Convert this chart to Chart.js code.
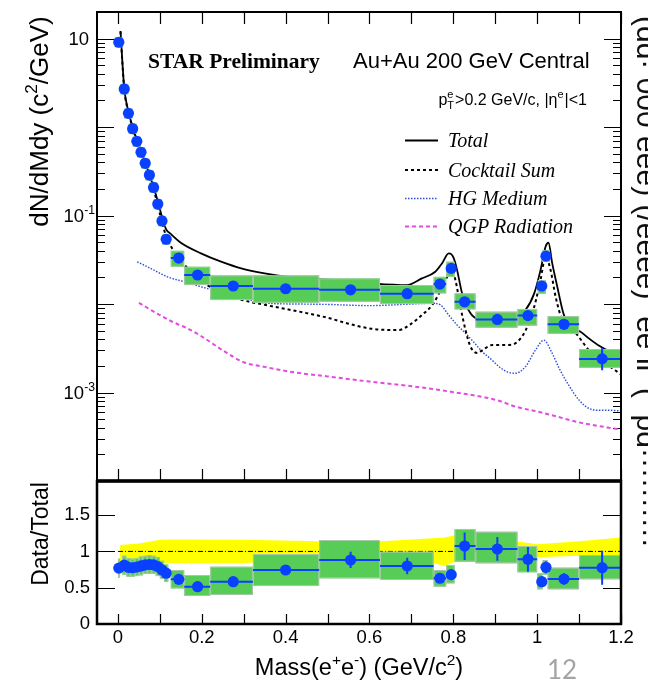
<!DOCTYPE html>
<html><head><meta charset="utf-8">
<script src="https://cdn.jsdelivr.net/npm/chart.js@4.4.1/dist/chart.umd.min.js"></script>
<style>
html,body{margin:0;padding:0;background:#fff;overflow:hidden}
#wrap{position:relative;width:648px;height:680px}
canvas{position:absolute;left:0;top:0}
</style></head>
<body><div id="wrap"><canvas id="topc" width="648" height="680"></canvas><canvas id="botc" width="648" height="680"></canvas></div>
<script>
// ---------------- data ----------------
const massX = [0.002,0.015,0.025,0.035,0.045,0.055,0.065,0.075,0.085,0.095,0.105,0.115,
  0.145,0.19,0.275,0.40,0.555,0.69,0.768,0.795,0.827,0.905,0.978,1.011,1.021,1.064,1.155];
const yieldVals = [9.1,2.7,1.43,0.96,0.69,0.52,0.39,0.287,0.208,0.135,0.087,0.054,
  0.0331,0.0213,0.0160,0.0149,0.0145,0.0131,0.0168,0.0253,0.0106,0.0067,0.0074,0.0160,0.0348,0.0059,0.0024];
const binLo = [0.0,0.01,0.02,0.03,0.04,0.05,0.06,0.07,0.08,0.09,0.10,0.11,
  0.126,0.158,0.22,0.322,0.48,0.625,0.753,0.783,0.803,0.853,0.953,1.0,1.013,1.025,1.1];
const binHi = [0.005,0.02,0.03,0.04,0.05,0.06,0.07,0.08,0.09,0.10,0.11,0.12,
  0.158,0.22,0.322,0.48,0.625,0.753,0.783,0.803,0.853,0.953,1.0,1.013,1.025,1.1,1.2];
const sysLo = [8.0,2.35,1.25,0.84,0.60,0.455,0.34,0.25,0.182,0.118,0.076,0.047,
  0.0264,0.0164,0.0111,0.01035,0.0106,0.0100,0.0132,0.0203,0.0087,0.0054,0.0057,0.0130,0.0301,0.0046,0.0019];
const sysHi = [10.3,3.05,1.62,1.09,0.78,0.59,0.44,0.325,0.236,0.153,0.099,0.061,
  0.040,0.0264,0.0211,0.0211,0.0195,0.0164,0.0203,0.0301,0.0132,0.0082,0.0088,0.0187,0.0407,0.0073,0.0031];
const statLo = [8.9,2.64,1.40,0.94,0.675,0.51,0.38,0.281,0.203,0.131,0.084,0.052,
  0.0322,0.0206,0.0154,0.0143,0.0137,0.0123,0.0158,0.0240,0.0098,0.0062,0.0067,0.0150,0.0330,0.0052,0.00179];
const statHi = [9.3,2.76,1.46,0.98,0.705,0.53,0.40,0.293,0.213,0.139,0.090,0.056,
  0.0340,0.0220,0.0166,0.0155,0.0153,0.0139,0.0178,0.0266,0.0115,0.0072,0.0081,0.0170,0.0366,0.0067,0.00318];

const ratioVals = [0.77,0.81,0.78,0.775,0.785,0.80,0.815,0.82,0.815,0.79,0.745,0.70,
  0.615,0.514,0.583,0.744,0.882,0.799,0.63,0.68,1.074,1.033,0.891,0.583,0.781,0.62,0.776];
const ratioSysLo = [0.64,0.68,0.65,0.65,0.66,0.67,0.69,0.69,0.69,0.66,0.62,0.58,
  0.49,0.386,0.40,0.523,0.629,0.606,0.514,0.56,0.858,0.836,0.712,0.478,0.68,0.478,0.616];
const ratioSysHi = [0.90,0.94,0.91,0.90,0.91,0.93,0.94,0.95,0.94,0.92,0.87,0.82,
  0.744,0.675,0.789,0.964,1.157,0.996,0.744,0.813,1.309,1.271,1.074,0.698,0.88,0.776,0.95];
const ratioStatLo = [0.74,0.78,0.75,0.745,0.755,0.77,0.785,0.79,0.785,0.76,0.715,0.67,
  0.575,0.48,0.55,0.70,0.77,0.684,0.57,0.62,0.88,0.87,0.72,0.53,0.70,0.54,0.54];
const ratioStatHi = [0.80,0.84,0.81,0.805,0.815,0.83,0.845,0.85,0.845,0.82,0.775,0.73,
  0.655,0.55,0.62,0.79,0.995,0.913,0.69,0.74,1.26,1.20,1.06,0.64,0.86,0.70,1.01];

const bandX  = [0.005,0.05,0.10,0.13,0.30,0.48,0.63,0.75,0.78,0.80,0.85,0.95,1.0,1.1,1.2];
const bandHi = [1.09,1.11,1.16,1.165,1.16,1.14,1.14,1.18,1.19,1.22,1.17,1.14,1.10,1.14,1.19];
const bandLo = [0.86,0.86,0.845,0.84,0.84,0.87,0.88,0.84,0.80,0.85,0.86,0.86,0.92,0.94,0.95];
const unityX = [0,1.2];
const unityY = [1,1];

const totalX = [0.006,0.015,0.025,0.035,0.045,0.055,0.065,0.075,0.085,0.095,0.105,0.115,0.126,0.15,0.198,0.246,0.294,0.35,0.406,0.51,0.6,0.689,0.725,0.757,0.773,0.789,0.795,0.801,0.809,0.821,0.841,0.857,0.9,0.948,0.972,0.993,1.008,1.020,1.027,1.036,1.048,1.064,1.108,1.156,1.2];
const totalY = [12.2,2.75,1.5,1.0,0.72,0.53,0.40,0.29,0.21,0.145,0.097,0.070,0.062,0.0493,0.0374,0.0301,0.0253,0.0222,0.0203,0.0187,0.0172,0.0164,0.0195,0.0232,0.0288,0.0374,0.0367,0.033,0.0242,0.0132,0.00785,0.0069,0.0068,0.0071,0.00855,0.0132,0.0242,0.0444,0.0493,0.0288,0.0157,0.0075,0.0047,0.0032,0.0026];
const cockX = [0.006,0.015,0.025,0.035,0.045,0.055,0.065,0.075,0.085,0.095,0.105,0.115,0.13,0.15,0.2,0.25,0.3,0.35,0.4,0.45,0.5,0.55,0.6,0.65,0.67,0.70,0.725,0.75,0.77,0.785,0.793,0.805,0.817,0.829,0.841,0.857,0.869,0.893,0.933,0.953,0.973,0.993,1.008,1.02,1.032,1.044,1.06,1.092,1.124,1.16,1.2];
const cockY = [12.0,2.7,1.47,0.98,0.70,0.51,0.385,0.28,0.20,0.13,0.085,0.058,0.042,0.031,0.018,0.0135,0.011,0.0098,0.0088,0.0079,0.0070,0.0060,0.0053,0.0051,0.0051,0.0060,0.0075,0.0098,0.0144,0.0203,0.0264,0.0187,0.0093,0.0051,0.0033,0.0028,0.0030,0.00345,0.00345,0.00375,0.0051,0.0093,0.0187,0.0342,0.0242,0.0121,0.0066,0.0047,0.0030,0.0022,0.0016];
const hgX = [0.046,0.08,0.118,0.16,0.198,0.24,0.278,0.32,0.358,0.437,0.5,0.6,0.7,0.749,0.769,0.789,0.809,0.829,0.849,0.869,0.889,0.909,0.93,0.948,0.972,0.996,1.016,1.036,1.052,1.068,1.1,1.124,1.15,1.172,1.2];
const hgY = [0.030,0.025,0.0203,0.0178,0.0157,0.0138,0.0121,0.011,0.0102,0.0100,0.0099,0.0096,0.0100,0.0102,0.0098,0.0075,0.0058,0.00467,0.0037,0.00289,0.0024,0.00196,0.0017,0.00165,0.00196,0.00302,0.0039,0.00277,0.0019,0.00138,0.00082,0.00066,0.00063,0.00063,0.00062];
const qgpX = [0.05,0.08,0.10,0.13,0.166,0.2,0.25,0.3,0.35,0.41,0.5,0.6,0.7,0.8,0.9,0.95,1.0,1.05,1.1,1.2];
const qgpY = [0.0103,0.0085,0.0075,0.0063,0.0053,0.0043,0.0030,0.0022,0.00195,0.00172,0.00152,0.00133,0.00118,0.00101,0.00083,0.00069,0.00061,0.00053,0.00046,0.00038];

const xTickVals = [0,0.2,0.4,0.6,0.8,1.0,1.2];
const xTickLabels = ['0','0.2','0.4','0.6','0.8','1','1.2'];
const yTopTickVals = [10,0.1,0.001];
const yTopTickMant = ['10','10','10'];
const yTopTickExp  = ['','-1','-3'];
const yBotTickVals = [0,0.5,1,1.5];
const yBotTickLabels = ['0','0.5','1','1.5'];
const legendLabels = ['Total','Cocktail Sum','HG Medium','QGP Radiation'];

// ---------------- styles ----------------
const BLUE = '#0a40ff', GREEN = '#57cd57', BOXEDGE = '#a8c8a8';
const SANS = "'Liberation Sans', Arial, sans-serif";
const SERIF = "'Liberation Serif', 'Times New Roman', serif";
const curveStyles = [
  {color:'#000', width:1.8, dash:[]},
  {color:'#000', width:2, dash:[3,3]},
  {color:'#2a4cd8', width:1.4, dash:[1.5,1.5]},
  {color:'#e04ce0', width:2, dash:[4,3]}
];
const pts = (xs, ys) => xs.map((x,i)=>({x, y:ys[i]}));

function drawRich(ctx, parts, x, y, size, fam, align, style){
  style = style || '';
  const ws = parts.map(p=>{ ctx.font = `${style} ${p.sup?size*0.66:size}px ${fam}`; return ctx.measureText(p.t).width; });
  const W = ws.reduce((a,b)=>a+b,0);
  let cx = align==='center' ? x-W/2 : align==='right' ? x-W : x;
  ctx.textAlign='left'; ctx.textBaseline='alphabetic';
  parts.forEach((p,i)=>{
    ctx.font = `${style} ${p.sup?size*0.66:size}px ${fam}`;
    ctx.fillText(p.t, cx, p.sup ? y-size*0.42 : y);
    cx += ws[i];
  });
}

function drawBoxesAndBars(chart, xs, ys, vals, sLo, sHi, eLo, eHi, minW){
  const {ctx, chartArea:a, scales} = chart;
  const X = scales.x, Y = scales.y;
  ctx.save();
  ctx.beginPath(); ctx.rect(a.left,a.top,a.width,a.height); ctx.clip();
  for (let i=0;i<xs.length;i++){
    let x0 = X.getPixelForValue(binLo[i]), x1 = X.getPixelForValue(binHi[i]);
    if (x1-x0 < minW){ const c = X.getPixelForValue(xs[i]); x0 = c-minW/2; x1 = c+minW/2; }
    const y0 = Y.getPixelForValue(sHi[i]), y1 = Y.getPixelForValue(sLo[i]);
    ctx.fillStyle = GREEN; ctx.fillRect(x0,y0,x1-x0,y1-y0);
    ctx.strokeStyle = BOXEDGE; ctx.lineWidth = 1; ctx.strokeRect(x0+0.5,y0+0.5,x1-x0-1,y1-y0-1);
  }
  ctx.strokeStyle = BLUE; ctx.lineWidth = 2; ctx.beginPath();
  for (let i=0;i<xs.length;i++){
    const px = X.getPixelForValue(xs[i]), py = Y.getPixelForValue(vals[i]);
    ctx.moveTo(X.getPixelForValue(binLo[i]), py); ctx.lineTo(X.getPixelForValue(binHi[i]), py);
    ctx.moveTo(px, Y.getPixelForValue(eHi[i])); ctx.lineTo(px, Y.getPixelForValue(eLo[i]));
  }
  ctx.stroke();
  ctx.restore();
}

// ---------------- top panel ----------------
const topDeco = {
  id:'topDeco',
  beforeDatasetsDraw(chart){
    const {ctx, chartArea:a, scales:{x,y}} = chart;
    ctx.save(); ctx.strokeStyle='#000'; ctx.lineWidth=1.2; ctx.beginPath();
    for (let e=-4;e<=1;e++) for (let k=1;k<=9;k++){
      const v = k*Math.pow(10,e); if (v>=20 || v<=1.0001e-4) continue;
      const py = Math.round(y.getPixelForValue(v))+0.5, L = k===1?17:8;
      ctx.moveTo(a.left,py); ctx.lineTo(a.left+L,py);
      ctx.moveTo(a.right,py); ctx.lineTo(a.right-L,py);
    }
    for (let i=0;i<=12;i++){
      const px = Math.round(x.getPixelForValue(i/10))+0.5;
      ctx.moveTo(px,a.top); ctx.lineTo(px,a.top+12);
      ctx.moveTo(px,a.bottom); ctx.lineTo(px,a.bottom-12);
    }
    ctx.stroke(); ctx.restore();
  },
  beforeDatasetDraw(chart, args){
    if (args.index!==0) return;
    drawBoxesAndBars(chart, massX, null, yieldVals, sysLo, sysHi, statLo, statHi, 8);
  },
  afterDatasetsDraw(chart){
    const {ctx, chartArea:a} = chart;
    ctx.save(); ctx.strokeStyle='#000'; ctx.lineWidth=2;
    ctx.strokeRect(a.left, a.top, a.width, a.height); ctx.restore();
  },
  afterDraw(chart){
    const {ctx, scales:{y}} = chart;
    ctx.save(); ctx.fillStyle='#000';
    // y tick labels
    yTopTickVals.forEach((v,i)=>{
      const py = y.getPixelForValue(v);
      const parts = [{t:yTopTickMant[i]}];
      if (yTopTickExp[i]) parts.push({t:yTopTickExp[i], sup:true});
      drawRich(ctx, parts, yTopTickExp[i]?95:89, py+6.5, 18.5, SANS, 'right');
    });
    // y title
    ctx.save(); ctx.translate(47.5,121.5); ctx.rotate(-Math.PI/2);
    drawRich(ctx,[{t:'dN/dMdy (c'},{t:'2',sup:true},{t:'/GeV)'}],0,0,26,SANS,'center');
    ctx.restore();
    // headings
    ctx.font = `bold 21.5px ${SERIF}`; ctx.textAlign='left'; ctx.fillText('STAR Preliminary',148,68.3);
    ctx.font = `22px ${SANS}`; ctx.fillText('Au+Au 200 GeV Central',353,67.7);
    // pT cut text
    {
      const S=16, s=11, base=104.5, right=587;
      ctx.font=`${S}px ${SANS}`;
      const wp=ctx.measureText('p').width, wm=ctx.measureText('>0.2 GeV/c, |η').width, wend=ctx.measureText('|<1').width;
      ctx.font=`${s}px ${SANS}`;
      const we=ctx.measureText('e').width, wT=ctx.measureText('T').width, wst=Math.max(we,wT)+1;
      let cx = right-(wp+wst+wm+we+1+wend);
      ctx.font=`${S}px ${SANS}`; ctx.fillText('p',cx,base); cx+=wp;
      ctx.font=`${s}px ${SANS}`; ctx.fillText('e',cx,base-7); ctx.fillText('T',cx,base+4); cx+=wst;
      ctx.font=`${S}px ${SANS}`; ctx.fillText('>0.2 GeV/c, |η',cx,base); cx+=wm;
      ctx.font=`${s}px ${SANS}`; ctx.fillText('e',cx,base-7); cx+=we+1;
      ctx.font=`${S}px ${SANS}`; ctx.fillText('|<1',cx,base);
    }
    // legend
    const rows=[140.5,170,198.5,226.5];
    legendLabels.forEach((lab,i)=>{
      const st=curveStyles[i];
      ctx.save(); ctx.strokeStyle=st.color; ctx.lineWidth=st.width; ctx.setLineDash(st.dash);
      ctx.beginPath(); ctx.moveTo(405,rows[i]); ctx.lineTo(438,rows[i]); ctx.stroke(); ctx.restore();
      ctx.fillStyle='#000'; ctx.font=`italic 20px ${SERIF}`; ctx.textAlign='left';
      ctx.fillText(lab,448,rows[i]+6.8);
    });
    ctx.restore();
  }
};

const curveData = [[totalX,totalY],[cockX,cockY],[hgX,hgY],[qgpX,qgpY]];
new Chart(document.getElementById('topc'), {
  type:'line',
  data:{datasets:[
    {type:'scatter', label:'Data', data:pts(massX,yieldVals), pointRadius:5.6, pointHoverRadius:5.6,
     backgroundColor:BLUE, pointBackgroundColor:BLUE, borderColor:BLUE, pointBorderWidth:0, showLine:false},
    ...curveData.map((cd,i)=>({label:legendLabels[i], data:pts(cd[0],cd[1]), borderColor:curveStyles[i].color,
      borderWidth:curveStyles[i].width, borderDash:curveStyles[i].dash, pointRadius:0, fill:false,
      cubicInterpolationMode:'monotone'}))
  ]},
  options:{
    responsive:false, animation:false, devicePixelRatio:1, events:[],
    layout:{autoPadding:false, padding:{left:97, top:12, right:27, bottom:199}},
    plugins:{legend:{display:false}, tooltip:{enabled:false}},
    scales:{
      x:{type:'linear', min:-0.05, max:1.2, display:false},
      y:{type:'logarithmic', min:1e-4, max:20, display:false}
    }
  },
  plugins:[topDeco]
});

// ---------------- bottom panel ----------------
const botDeco = {
  id:'botDeco',
  beforeDatasetsDraw(chart){
    const {ctx, chartArea:a, scales:{x,y}} = chart;
    ctx.save(); ctx.strokeStyle='#000'; ctx.lineWidth=1.2; ctx.beginPath();
    [0.5,1,1.5].forEach(v=>{
      const py=Math.round(y.getPixelForValue(v))+0.5;
      ctx.moveTo(a.left,py); ctx.lineTo(a.left+18,py);
      ctx.moveTo(a.right,py); ctx.lineTo(a.right-18,py);
    });
    for (let i=0;i<=12;i++){
      const px=Math.round(x.getPixelForValue(i/10))+0.5;
      ctx.moveTo(px,a.bottom); ctx.lineTo(px,a.bottom-10);
    }
    ctx.stroke(); ctx.restore();
  },
  beforeDatasetDraw(chart,args){
    if (args.index!==0) return;
    drawBoxesAndBars(chart, massX, null, ratioVals, ratioSysLo, ratioSysHi, ratioStatLo, ratioStatHi, 0);
  },
  afterDatasetsDraw(chart){
    const {ctx, chartArea:a} = chart;
    ctx.save(); ctx.strokeStyle='#000'; ctx.lineWidth=2.5;
    ctx.strokeRect(a.left,a.top,a.width,a.height);
    ctx.lineWidth=3.5; ctx.beginPath(); ctx.moveTo(a.left-1,a.top); ctx.lineTo(a.right+1,a.top); ctx.stroke();
    ctx.restore();
  },
  afterDraw(chart){
    const {ctx} = chart;
    ctx.save(); ctx.fillStyle='#000';
    ctx.save(); ctx.translate(48,534); ctx.rotate(-Math.PI/2);
    ctx.font=`23px ${SANS}`; ctx.textAlign='center'; ctx.textBaseline='alphabetic';
    ctx.fillText('Data/Total',0,0); ctx.restore();
    drawRich(ctx,[{t:'Mass(e'},{t:'+',sup:true},{t:'e'},{t:'-',sup:true},{t:') (GeV/c'},{t:'2',sup:true},{t:')'}],
      359,675,23.5,SANS,'center');
    ctx.fillStyle='#a4a4a4'; ctx.font="26px Lato, 'Open Sans', sans-serif"; ctx.textAlign='left';
    ctx.fillText('12',547,678.5);
    // clipped slide text at the right edge
    ctx.save(); ctx.translate(637,16); ctx.rotate(Math.PI/2);
    ctx.fillStyle='#111'; ctx.font=`30px ${SANS}`; ctx.textAlign='left';
    ctx.fillText('(dd· 000 eee) (/eeee)  ee ii  (  pd··········',0,0);
    ctx.restore();
    ctx.restore();
  }
};

new Chart(document.getElementById('botc'), {
  type:'line',
  data:{datasets:[
    {type:'scatter', label:'Data/Total', data:pts(massX,ratioVals), pointRadius:5.6, pointHoverRadius:5.6,
     backgroundColor:BLUE, pointBackgroundColor:BLUE, borderColor:BLUE, pointBorderWidth:0, showLine:false},
    {label:'unity', data:pts(unityX,unityY), borderColor:'#000', borderWidth:1, borderDash:[5,2,1,2], pointRadius:0, fill:false},
    {label:'band hi', data:pts(bandX,bandHi), borderColor:'rgba(0,0,0,0)', borderWidth:1, pointRadius:0, fill:'+1', backgroundColor:'#ffff00'},
    {label:'band lo', data:pts(bandX,bandLo), borderColor:'rgba(0,0,0,0)', borderWidth:1, pointRadius:0, fill:false}
  ]},
  options:{
    responsive:false, animation:false, devicePixelRatio:1, events:[],
    layout:{autoPadding:false, padding:{left:0, top:481, right:27, bottom:0}},
    plugins:{legend:{display:false}, tooltip:{enabled:false}},
    scales:{
      x:{type:'linear', min:-0.05, max:1.2,
         afterFit(s){ s.height=56; },
         afterBuildTicks(s){ s.ticks = xTickVals.map(v=>({value:v})); },
         grid:{display:false, drawTicks:false}, border:{display:false},
         ticks:{padding:3, autoSkip:false, maxRotation:0, color:'#000', font:{family:SANS, size:18.5},
                callback:(v,i)=>xTickLabels[i]}},
      y:{type:'linear', min:0, max:1.97,
         afterFit(s){ s.width=97; },
         afterBuildTicks(s){ s.ticks = yBotTickVals.map(v=>({value:v})); },
         grid:{display:false, drawTicks:false}, border:{display:false},
         ticks:{padding:7, autoSkip:false, color:'#000', font:{family:SANS, size:18.5},
                callback:(v,i)=>yBotTickLabels[i]}}
    }
  },
  plugins:[botDeco]
});
</script>
</body></html>
